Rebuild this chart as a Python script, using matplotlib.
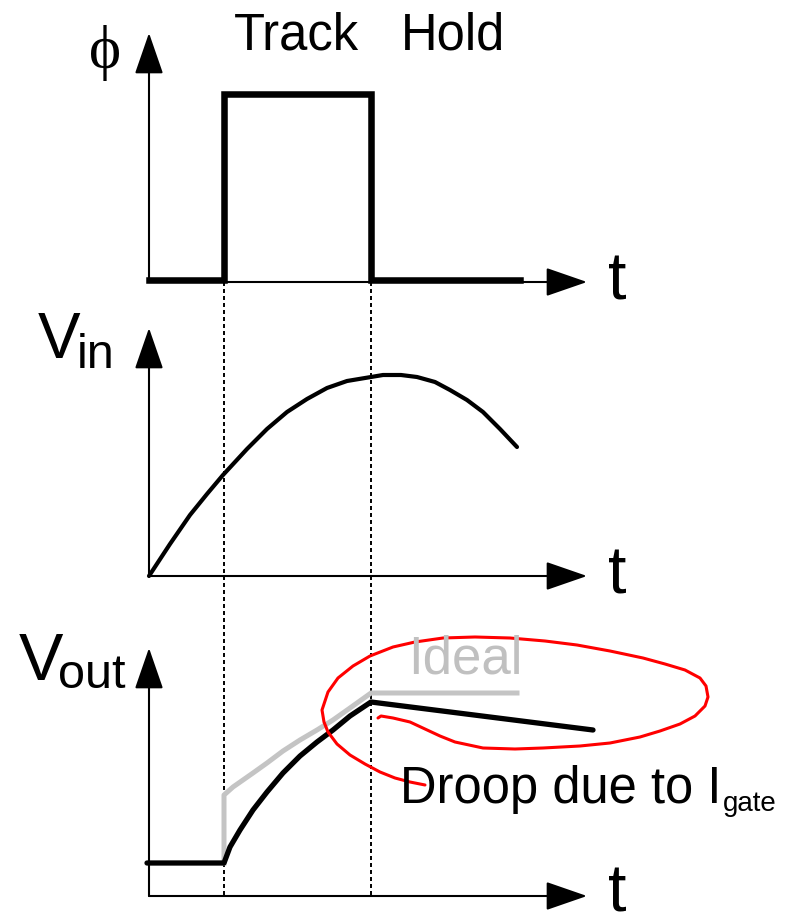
import matplotlib
matplotlib.use("Agg")
import matplotlib.pyplot as plt

# time axis is in px from the vertical axis, values in px above each baseline
T0 = 149
PHI_Y0 = 282
VIN_Y0 = 576
VOUT_Y0 = 896
T_TRACK = 75
T_HOLD = 222
T_AXIS_END = 438

# sampling clock
phi_t = [0, T_TRACK, T_TRACK, T_HOLD, T_HOLD, 371]
phi_v = [2, 2, 188, 188, 2, 2]

# input signal
vin_t = [0, 21, 41, 58, 74, 98, 118, 138, 158, 178, 198, 222, 234, 252, 268,
         286, 301, 318, 334, 351, 368]
vin_v = [0, 32, 61, 82, 101, 127, 147, 164, 177, 188, 195, 199, 201, 201, 199,
         194, 186, 176, 164, 147, 129]

# real output with droop during hold
vout_t = [-2, 75, 81, 91, 104, 118, 134, 151, 168, 184, 201, 222, 444]
vout_v = [33, 33, 49, 66, 86, 104, 123, 140, 154, 166, 180, 194, 166]

# ideal output
ideal_t = [75, 75, 84, 104, 118, 134, 151, 168, 184, 201, 222, 368]
ideal_v = [33, 101, 109, 123, 133, 145, 156, 166, 176, 188, 203, 203]

# red pen mark around the droop
mark_x = [378, 381, 393, 410, 425, 440, 455, 483, 515, 543, 580, 610, 640, 660,
          680, 695, 705, 708, 706, 700, 685, 665, 643, 610, 577, 545, 510, 475,
          443, 415, 393, 370, 353, 338, 328, 322, 324, 328, 337, 350, 365, 380,
          395, 410, 425]
mark_y = [718, 716, 718, 722, 729, 736, 742, 748, 749, 748, 746, 743, 737, 731,
          724, 716, 706, 697, 686, 678, 670, 664, 658, 651, 645, 641, 638, 637,
          638, 642, 647, 656, 666, 678, 692, 710, 722, 732, 744, 755, 764, 772,
          778, 782, 785]

SANS = ["Liberation Sans", "DejaVu Sans"]


def to_xy(ts, vs, y0):
    return [T0 + t for t in ts], [y0 - v for v in vs]


def draw_axes(ax, y0, top, t_base):
    arrow = dict(arrowstyle="-|>,head_length=2.6,head_width=0.9",
                 mutation_scale=10, lw=1.5, color="black",
                 shrinkA=0, shrinkB=0)
    ax.annotate("", xy=(T0, top), xytext=(T0, y0), arrowprops=arrow)
    ax.annotate("", xy=(T0 + T_AXIS_END, y0), xytext=(T0, y0), arrowprops=arrow)
    ax.text(T0 + 459, t_base, "t", fontsize=48, family=SANS,
            ha="left", va="baseline")


def main():
    fig = plt.figure(figsize=(7.92, 9.15), dpi=100)
    ax = fig.add_axes([0, 0, 1, 1])
    ax.set_xlim(0, 792)
    ax.set_ylim(915, 0)
    ax.axis("off")

    draw_axes(ax, PHI_Y0, 33, 300)
    draw_axes(ax, VIN_Y0, 328, 594)
    draw_axes(ax, VOUT_Y0, 648, 912)

    # dashed markers at the track / hold edges
    for t in (T_TRACK, T_HOLD):
        ax.plot([T0 + t, T0 + t], [PHI_Y0, VOUT_Y0], color="black", lw=1.4,
                dashes=(2.05, 1.55))

    x, y = to_xy(phi_t, phi_v, PHI_Y0)
    ax.plot(x, y, color="black", lw=4.7, solid_joinstyle="miter")
    x, y = to_xy(vin_t, vin_v, VIN_Y0)
    ax.plot(x, y, color="black", lw=3.0, solid_capstyle="round",
            solid_joinstyle="round")
    x, y = to_xy(ideal_t, ideal_v, VOUT_Y0)
    ax.plot(x, y, color="#c4c4c4", lw=3.6, solid_joinstyle="round")
    x, y = to_xy(vout_t, vout_v, VOUT_Y0)
    ax.plot(x, y, color="black", lw=3.8, solid_capstyle="round",
            solid_joinstyle="round")

    ax.plot(mark_x, mark_y, color="#ff0000", lw=2.2, solid_capstyle="round",
            solid_joinstyle="round")

    # labels
    ax.text(105, 53, "\u03d5", fontsize=44, family=["Liberation Serif", "DejaVu Serif"],
            ha="center", va="center")
    ax.text(234, 50, "Track", fontsize=36.5, family=SANS, va="baseline")
    ax.text(401, 50, "Hold", fontsize=36.5, family=SANS, va="baseline")
    ax.text(38, 358, "V", fontsize=46, family=SANS, va="baseline")
    ax.text(77, 368, "in", fontsize=35, family=SANS, va="baseline")
    ax.text(19, 680, "V", fontsize=48, family=SANS, va="baseline")
    ax.text(58, 688, "out", fontsize=35, family=SANS, va="baseline")
    ax.text(408, 673, "Ideal", fontsize=38, family=SANS, va="baseline",
            color="#c0c0c0")
    droop = ax.text(400, 803, "Droop due to I", fontsize=36.5, family=SANS,
                    va="baseline")
    ax.annotate("gate", xy=(1, 0), xycoords=droop, xytext=(1, -2),
                textcoords="offset points", fontsize=20, family=SANS,
                va="bottom", ha="left")

    fig.savefig("out.png", dpi=100)


if __name__ == "__main__":
    main()
